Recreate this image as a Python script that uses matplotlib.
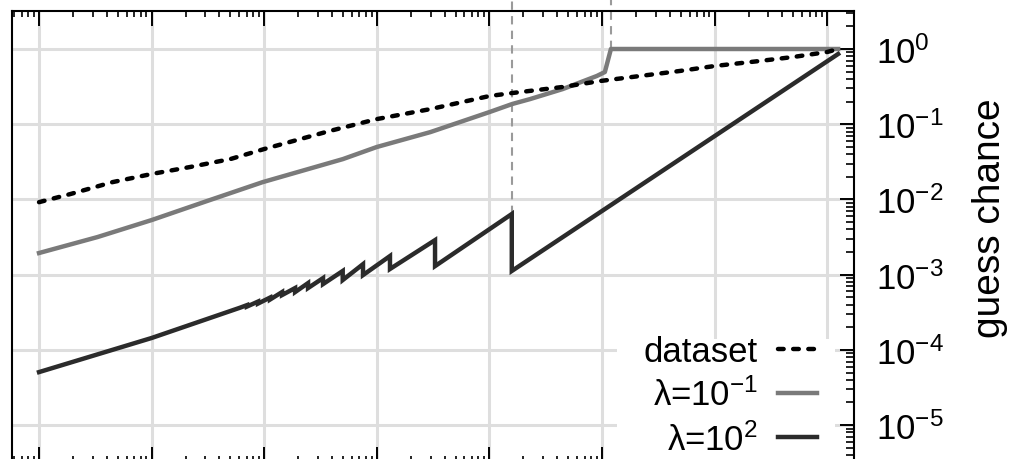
import numpy as np
import matplotlib
matplotlib.use("Agg")
import matplotlib.pyplot as plt
from matplotlib.patches import Rectangle
from matplotlib.ticker import (FixedLocator, LogLocator, LogFormatterSciNotation,
                               NullFormatter)

# number of guesses vs. chance that the target has been guessed
dataset_guesses = [1, 1.9, 4.5, 10, 22, 50, 100, 380, 1000, 3000, 1.0e4, 1.6e4,
                   4.5e4, 9.6e4, 4.9e5, 1.0e6, 2.5e6, 5.0e6, 1.0e7, 1.25e7]
dataset_chance = [0.0092, 0.0118, 0.0170, 0.0218, 0.0270, 0.0344, 0.0468, 0.0812,
                  0.117, 0.159, 0.237, 0.260, 0.313, 0.375, 0.510, 0.594, 0.692,
                  0.783, 0.912, 1.0]

lam_small_guesses = [1, 3.3, 10, 31, 97, 500, 1000, 3000, 1.0e4, 1.6e4, 2.3e4,
                     4.5e4, 9.0e4, 1.06e5, 1.2e5, 1.25e7]
lam_small_chance = [0.00194, 0.00316, 0.00532, 0.00952, 0.0170, 0.0344, 0.0498,
                    0.0787, 0.145, 0.186, 0.216, 0.294, 0.438, 0.494, 1.0, 1.0]

lam_large_guesses = [1, 10, 61, 70.3, 70.3, 88.1, 88.1, 112.6, 112.6,
                     144, 144, 188, 188, 245, 245, 333, 333, 498, 498,
                     754, 754, 1309, 1309, 3289, 3289, 15800, 15800, 1.25e7]
lam_large_chance = [5.07e-5, 1.44e-4, 3.64e-4, 3.94e-4, 3.77e-4, 4.39e-4, 4.13e-4,
                    4.96e-4, 4.67e-4, 5.87e-4, 5.36e-4, 6.64e-4, 5.87e-4,
                    7.73e-4, 6.64e-4, 9.01e-4, 7.50e-4, 1.12e-3, 8.48e-4,
                    1.38e-3, 9.88e-4, 1.77e-3, 1.19e-3, 2.88e-3, 1.30e-3,
                    6.40e-3, 1.12e-3, 0.858]

# guide lines marking where the curves jump
marker_guesses = [15800, 1.2e5]
marker_from = [6.40e-3, 1.0]

labels = ["dataset", r"λ=$10^{-1}$", r"λ=$10^{2}$"]
chance_ticks = [1e-5, 1e-4, 1e-3, 1e-2, 1e-1, 1e0]

plt.rcParams["font.family"] = ["Liberation Sans", "DejaVu Sans"]
plt.rcParams["mathtext.fontset"] = "custom"
plt.rcParams["mathtext.rm"] = "Liberation Sans"
plt.rcParams["mathtext.default"] = "regular"

W, H = 1013, 460
fig = plt.figure(figsize=(W / 100, H / 100), dpi=100)
ax = fig.add_axes([12 / W, (H - 463) / H, (854 - 12) / W, (463 - 12) / H])

ax.set_xscale("log")
ax.set_yscale("log")
ax.set_xlim(10 ** -0.24, 10 ** 7.238)
ax.set_ylim(10 ** -5.49, 10 ** 0.505)

ax.xaxis.set_major_locator(LogLocator(base=10, numticks=100))
ax.xaxis.set_minor_locator(LogLocator(base=10, subs=np.arange(2, 10), numticks=100))
ax.xaxis.set_major_formatter(NullFormatter())
ax.xaxis.set_minor_formatter(NullFormatter())
ax.yaxis.set_major_locator(FixedLocator(chance_ticks))
ax.yaxis.set_major_formatter(LogFormatterSciNotation())
ax.yaxis.set_minor_locator(LogLocator(base=10, subs=np.arange(2, 10), numticks=100))
ax.yaxis.set_minor_formatter(NullFormatter())

ax.grid(which="major", color="#dedede", linewidth=2.2)
ax.set_axisbelow(True)

for s in ax.spines.values():
    s.set_linewidth(1.5)
    s.set_color("black")

ax.tick_params(axis="x", which="both", direction="in", top=True, bottom=True,
               labelbottom=False, labeltop=False, labelsize=1)
ax.tick_params(axis="x", which="major", length=10.5, width=1.4)
ax.tick_params(axis="x", which="minor", length=4.2, width=1.2)
ax.yaxis.tick_right()
ax.tick_params(axis="y", which="both", direction="in", left=False, right=True,
               labelleft=False)
ax.tick_params(axis="y", which="major", length=10, width=1.4, pad=16, labelsize=25,
               labelright=True)
ax.tick_params(axis="y", which="minor", length=5.5, width=1.2, labelright=False,
               labelsize=1)

# white backing behind the legend
ax.add_patch(Rectangle((617 / W, 0), (835 - 617) / W, (H - 340) / H,
                       transform=fig.transFigure, facecolor="white",
                       edgecolor="none", zorder=1))

h2, = ax.plot(lam_large_guesses, lam_large_chance, color="#2b2b2b", lw=3.2,
              solid_joinstyle="miter", zorder=3)
h1, = ax.plot(lam_small_guesses, lam_small_chance, color="#7a7a7a", lw=3.2,
              solid_joinstyle="round", zorder=4)
h0, = ax.plot(dataset_guesses, dataset_chance, color="black", lw=3.2,
              dashes=(1.27, 2.14), dash_capstyle="round", zorder=5)

for gx, gy in zip(marker_guesses, marker_from):
    ax.plot([gx, gx], [gy, 10.0], color="#9a9a9a", lw=1.5, dashes=(4, 3),
            clip_on=False, zorder=2)

leg = ax.legend([h0, h1, h2], labels, loc="upper right",
                bbox_to_anchor=(817 / W, 1 - 336 / H), bbox_transform=fig.transFigure,
                markerfirst=False, frameon=False, borderpad=0, borderaxespad=0,
                handlelength=1.12, handletextpad=0.58, labelspacing=0.28, fontsize=25)
leg.set_zorder(6)

fig.text(990 / W, 1 - 218 / H, "guess chance", rotation=90, ha="center", va="center",
         fontsize=28)

fig.savefig("out.png", dpi=100)
